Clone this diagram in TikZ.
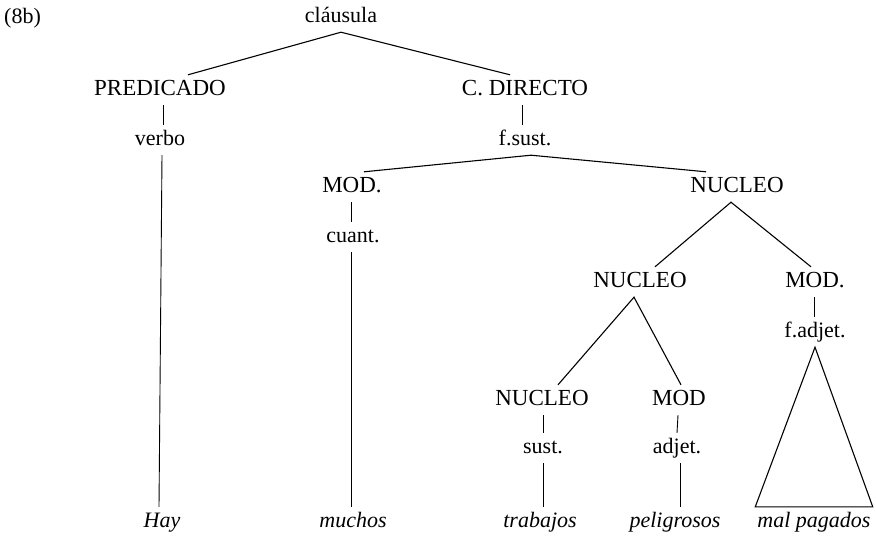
\documentclass[tikz,border=0pt]{standalone}
\usepackage{fontspec}
\setmainfont{Liberation Serif}
\usetikzlibrary{calc}
\begin{document}
\begin{tikzpicture}[x=1pt,y=-1pt,
  lab/.style={font=\fontsize{22}{26}\selectfont, inner xsep=2pt, inner ysep=5pt, text height=15pt, text depth=5pt},
  upl/.style={lab, font=\fontsize{23}{27}\selectfont},
  word/.style={lab, font=\fontsize{22}{26}\selectfont\itshape},
  br/.style={line width=1.1pt},
  vl/.style={line width=0.9pt}]
\useasboundingbox[fill=white] (0,0) rectangle (876,536);
% nodes
\node[lab, anchor=west] (tag) at (2,18) {(8b)};
\node[lab] (cl) at (341,17) {cláusula};
\node[upl] (pred) at (160,90) {PREDICADO};
\node[upl] (cd) at (525,90) {C. DIRECTO};
\node[lab] (verbo) at (160,140) {verbo};
\node[lab] (fsust) at (525,140) {f.sust.};
\node[upl] (mod1) at (352,187) {MOD.};
\node[upl] (nuc1) at (737,187) {NUCLEO};
\node[lab] (cuant) at (353,237) {cuant.};
\node[upl] (nuc2) at (640,282) {NUCLEO};
\node[upl] (mod2) at (815,282) {MOD.};
\node[lab] (fadj) at (815,332) {f.adjet.};
\node[upl] (nuc3) at (542,400) {NUCLEO};
\node[upl] (mod3) at (679,400) {MOD};
\node[lab] (sust) at (543,448) {sust.};
\node[lab] (adj) at (677,448) {adjet.};
\node[word] (hay) at (162,522) {Hay};
\node[word] (muchos) at (353,522) {muchos};
\node[word] (trab) at (540,522) {trabajos};
\node[word] (pel) at (675,522) {peligrosos};
\node[word] (mp) at (814,522) {mal pagados};
% branches
\draw[br] ($(pred.north)+(28,0)$) -- (cl.south) -- ($(cd.north)+(-15,0)$);
\draw[vl] ($(pred.south)+(3,0)$) -- ($(verbo.north)+(3,0)$);
\draw[vl] ($(verbo.south)+(2,0)$) -- ($(hay.north)+(-3,0)$);
\draw[vl] ($(cd.south)+(-3,0)$) -- ($(fsust.north)+(-3,0)$);
\draw[br] ($(mod1.north)+(12,0)$) -- ($(fsust.south)+(6,0)$) -- ($(nuc1.north)+(-31,0)$);
\draw[vl] ($(mod1.south)+(-1,0)$) -- ($(cuant.north)+(-2,0)$);
\draw[vl] ($(cuant.south)+(-2,0)$) -- ($(muchos.north)+(-2,0)$);
\draw[br] ($(nuc2.north)+(15,0)$) -- ($(nuc1.south)+(-6,0)$) -- ($(mod2.north)+(-4,0)$);
\draw[vl] ($(mod2.south)+(-1,0)$) -- ($(fadj.north)+(-1,0)$);
\draw[br] ($(nuc3.north)+(16,0)$) -- ($(nuc2.south)+(-6,0)$) -- ($(mod3.north)+(2,0)$);
\draw[vl] ($(nuc3.south)+(1,0)$) -- (sust.north);
\draw[vl] (sust.south) -- ($(trab.north)+(3,0)$);
\draw[vl] ($(mod3.south)+(-1,0)$) -- (adj.north);
\draw[vl] ($(adj.south)+(3,0)$) -- ($(pel.north)+(5,0)$);
\draw[br] (mp.north west) -- (fadj.south) -- (mp.north east) -- cycle;
\end{tikzpicture}
\end{document}
